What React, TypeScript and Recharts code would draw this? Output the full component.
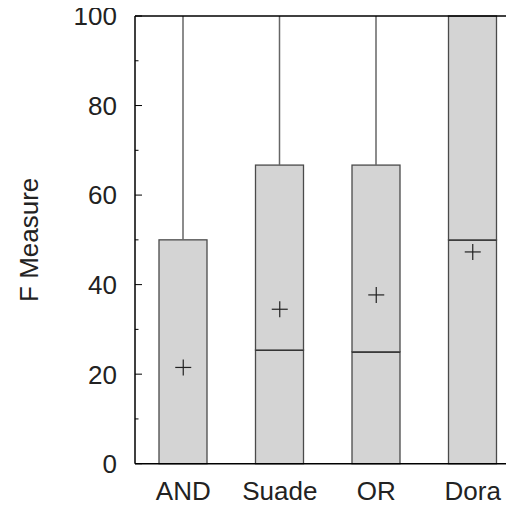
import {
  Bar,
  ComposedChart,
  ReferenceLine,
  Scatter,
  XAxis,
  YAxis,
} from "recharts";

// Box plot stats per method (F measure, %)
const categories = ["AND", "Suade", "OR", "Dora"];
const whiskerLow = [0, 0, 0, 0];
const q1 = [0, 0, 0, 0];
const median = [0, 25.4, 25, 50];
const q3 = [50, 66.7, 66.7, 100];
const whiskerHigh = [100, 100, 100, 100];
const mean = [21.5, 34.5, 37.7, 47.3];

const yTicks = [0, 10, 20, 30, 40, 50, 60, 70, 80, 90, 100];
const yLabelled = [0, 20, 40, 60, 80, 100];

const rows = categories.map((name, i) => ({
  name,
  base: q1[i] - whiskerLow[i],
  lower: median[i] - q1[i],
  upper: q3[i] - median[i],
  whisker: whiskerHigh[i] - q3[i],
  mean: mean[i],
}));

const FONT = "'Liberation Sans', Arial, Helvetica, sans-serif";
const FONT_SIZE = 26;
const BOX_FILL = "#d4d4d4";
const BOX_STROKE = "#4a4a4a";

function LowerBox(props: any) {
  const { x, y, width, height } = props;
  if (!height || height <= 0) return null;
  return (
    <g>
      <rect x={x} y={y} width={width} height={height} fill={BOX_FILL} stroke={BOX_STROKE} strokeWidth={1.3} />
      <line x1={x} x2={x + width} y1={y} y2={y} stroke="#111" strokeWidth={1.8} />
    </g>
  );
}

function UpperBox(props: any) {
  const { x, y, width, height } = props;
  if (!height || height <= 0) return null;
  return <rect x={x} y={y} width={width} height={height} fill={BOX_FILL} stroke={BOX_STROKE} strokeWidth={1.3} />;
}

function Whisker(props: any) {
  const { x, y, width, height } = props;
  if (!height || height <= 0) return null;
  const cx = x + width / 2;
  return <line x1={cx} x2={cx} y1={y} y2={y + height} stroke="#666" strokeWidth={1.5} />;
}

function MeanMark(props: any) {
  const { cx, cy } = props;
  const r = 8;
  return (
    <g stroke="#222" strokeWidth={1.2}>
      <line x1={cx - r} x2={cx + r} y1={cy} y2={cy} />
      <line x1={cx} x2={cx} y1={cy - r} y2={cy + r} />
    </g>
  );
}

const TICK_MARGIN = 18;

function YTick(props: any) {
  const { x, y, payload } = props;
  const v = payload.value;
  const major = yLabelled.includes(v);
  const ax = x + TICK_MARGIN;
  return (
    <g>
      <line x1={ax} x2={ax + (major ? 7 : 3.5)} y1={y} y2={y} stroke="#000" strokeWidth={1} />
      {major && (
        <text x={x} y={y} dy="0.36em" textAnchor="end" fontSize={FONT_SIZE} fontFamily={FONT} fill="#222">
          {v}
        </text>
      )}
    </g>
  );
}

function XTick(props: any) {
  const { x, y, payload } = props;
  return (
    <text x={x} y={y + 36} textAnchor="middle" fontSize={FONT_SIZE} fontFamily={FONT} fill="#222">
      {payload.value}
    </text>
  );
}

function YLabel(props: any) {
  const { viewBox } = props;
  const cy = viewBox.y + viewBox.height / 2;
  const cx = 21;
  return (
    <text
      x={cx}
      y={cy}
      transform={`rotate(-90 ${cx} ${cy})`}
      textAnchor="middle"
      dominantBaseline="central"
      fontSize={FONT_SIZE}
      fontFamily={FONT}
      fill="#222"
    >
      F Measure
    </text>
  );
}

export default function App() {
  return (
    <div style={{ marginTop: -8 }}>
      <style>{"body{overflow:hidden}"}</style>
      <ComposedChart
        width={513}
        height={507}
        data={rows}
        margin={{ top: 16, right: 0, left: 0, bottom: 0 }}
      >
        <XAxis
          dataKey="name"
          type="category"
          height={43.3}
          axisLine={{ stroke: "#000", strokeWidth: 1.5 }}
          tickLine={false}
          tickSize={0}
          tickMargin={0}
          tick={<XTick />}
        />
        <YAxis
          type="number"
          domain={[0, 100]}
          ticks={yTicks}
          interval={0}
          width={127}
          axisLine={{ stroke: "#000", strokeWidth: 1.5 }}
          tickLine={false}
          tickSize={0}
          tickMargin={TICK_MARGIN}
          tick={<YTick />}
          label={<YLabel />}
        />
        <Bar dataKey="base" stackId="box" fill="transparent" barSize={48} isAnimationActive={false} />
        <Bar dataKey="lower" stackId="box" barSize={48} shape={<LowerBox />} isAnimationActive={false} />
        <Bar dataKey="upper" stackId="box" barSize={48} shape={<UpperBox />} isAnimationActive={false} />
        <Bar dataKey="whisker" stackId="box" barSize={48} shape={<Whisker />} isAnimationActive={false} />
        <Scatter dataKey="mean" shape={<MeanMark />} isAnimationActive={false} />
        <ReferenceLine y={100} stroke="#000" strokeWidth={1.5} />
      </ComposedChart>
    </div>
  );
}
